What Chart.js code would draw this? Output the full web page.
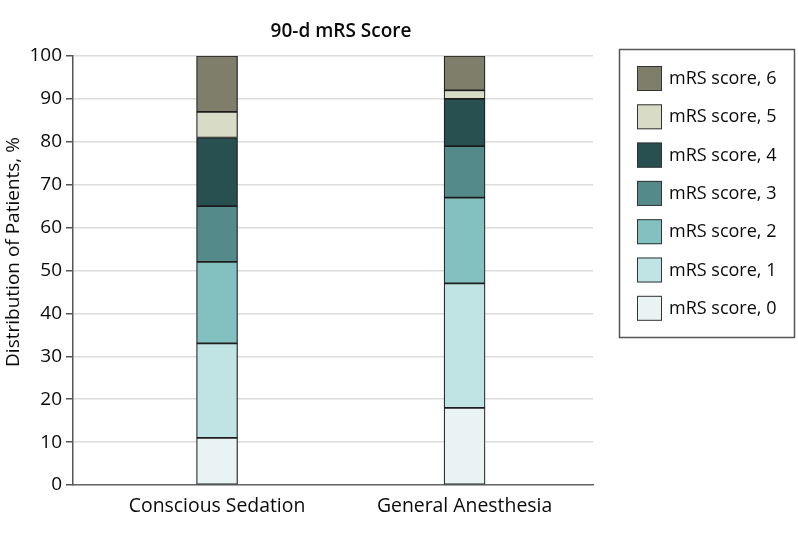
<!DOCTYPE html>
<html>
<head>
<meta charset="utf-8">
<script src="https://cdn.jsdelivr.net/npm/chart.js@4.4.1/dist/chart.umd.min.js"></script>
<style>
  html, body { margin: 0; padding: 0; background: #fff; }
  #wrap { width: 798px; height: 536px; position: relative; }
</style>
</head>
<body>
<div id="wrap"><canvas id="c" width="798" height="536"></canvas></div>
<script>
// ---- data ----
const categories = ["Conscious Sedation", "General Anesthesia"];
const seriesNames = ["mRS score, 0", "mRS score, 1", "mRS score, 2", "mRS score, 3", "mRS score, 4", "mRS score, 5", "mRS score, 6"];
const consciousSedation = [11, 22, 19, 13, 16, 6, 13];
const generalAnesthesia = [18, 29, 20, 12, 11, 2, 8];
const yTicks = [0, 10, 20, 30, 40, 50, 60, 70, 80, 90, 100];
const chartTitle = "90-d mRS Score";
const yTitle = "Distribution of Patients, %";

// ---- styles ----
const colors = ["#eaf3f3", "#c0e4e4", "#83c0c0", "#558a8a", "#285050", "#d8dcc6", "#7f7e6a"];
const FONT = "'Open Sans', 'DejaVu Sans', sans-serif";
const TEXT = "#0a0a0a";

const datasets = seriesNames.map((name, i) => ({
  label: name,
  data: [
    { x: 0, y: consciousSedation[i] },
    { x: 1, y: generalAnesthesia[i] }
  ],
  backgroundColor: colors[i],
  borderColor: "#1e1e1e",
  borderWidth: 1.2,
  borderSkipped: false,
  barThickness: 41
}));

const overlay = {
  id: "overlay",
  afterDraw(chart) {
    const ctx = chart.ctx;
    ctx.save();
    // title
    ctx.fillStyle = TEXT;
    ctx.font = "600 19px " + FONT;
    ctx.textAlign = "center";
    ctx.textBaseline = "alphabetic";
    ctx.fillText(chartTitle, 341, 37);
    // y title
    ctx.save();
    ctx.translate(19, 252);
    ctx.rotate(-Math.PI / 2);
    ctx.font = "19px " + FONT;
    ctx.textAlign = "center";
    ctx.textBaseline = "alphabetic";
    ctx.fillText(yTitle, 0, 0);
    ctx.restore();
    // legend box
    ctx.strokeStyle = "#555";
    ctx.lineWidth = 1.5;
    ctx.strokeRect(619.5, 49.5, 175, 288);
    const ds = chart.data.datasets;
    ctx.font = "18px " + FONT;
    ctx.textAlign = "left";
    ctx.textBaseline = "middle";
    for (let k = 0; k < ds.length; k++) {
      const d = ds[ds.length - 1 - k];
      const top = 66 + k * 38.3;
      ctx.fillStyle = d.backgroundColor;
      ctx.fillRect(637, top, 25, 25);
      ctx.strokeStyle = "#333";
      ctx.lineWidth = 1;
      ctx.strokeRect(637.5, top + 0.5, 24, 24);
      ctx.fillStyle = TEXT;
      ctx.fillText(d.label, 669, top + 13);
    }
    ctx.restore();
  }
};

new Chart(document.getElementById("c"), {
  type: "bar",
  data: { datasets },
  options: {
    responsive: false,
    animation: false,
    layout: { padding: { top: 56, right: 205, bottom: 0, left: 0 } },
    plugins: { legend: { display: false }, title: { display: false }, tooltip: { enabled: false } },
    scales: {
      x: {
        type: "linear",
        stacked: true,
        offset: false,
        min: -0.582,
        max: 1.519,
        afterBuildTicks(scale) { scale.ticks = [{ value: 0 }, { value: 1 }]; },
        afterFit(scale) { scale.height = 51; },
        ticks: {
          callback: (v) => categories[v] !== undefined ? categories[v] : "",
          font: { family: FONT, size: 19.4 },
          color: TEXT,
          padding: 10,
          maxRotation: 0,
          autoSkip: false
        },
        grid: { display: false, drawTicks: false },
        border: { display: true, color: "#666", width: 1.5 }
      },
      y: {
        stacked: true,
        min: 0,
        max: 100,
        afterBuildTicks(scale) { scale.ticks = yTicks.map(v => ({ value: v })); },
        afterFit(scale) { scale.width = 73; },
        ticks: {
          font: { family: FONT, size: 19 },
          color: TEXT,
          padding: 4
        },
        grid: { color: "#dcdcdc", lineWidth: 1.5, tickLength: 7, tickColor: "#555", drawTicks: true },
        border: { display: true, color: "#555", width: 1.5 }
      }
    }
  },
  plugins: [overlay]
});
</script>
</body>
</html>
